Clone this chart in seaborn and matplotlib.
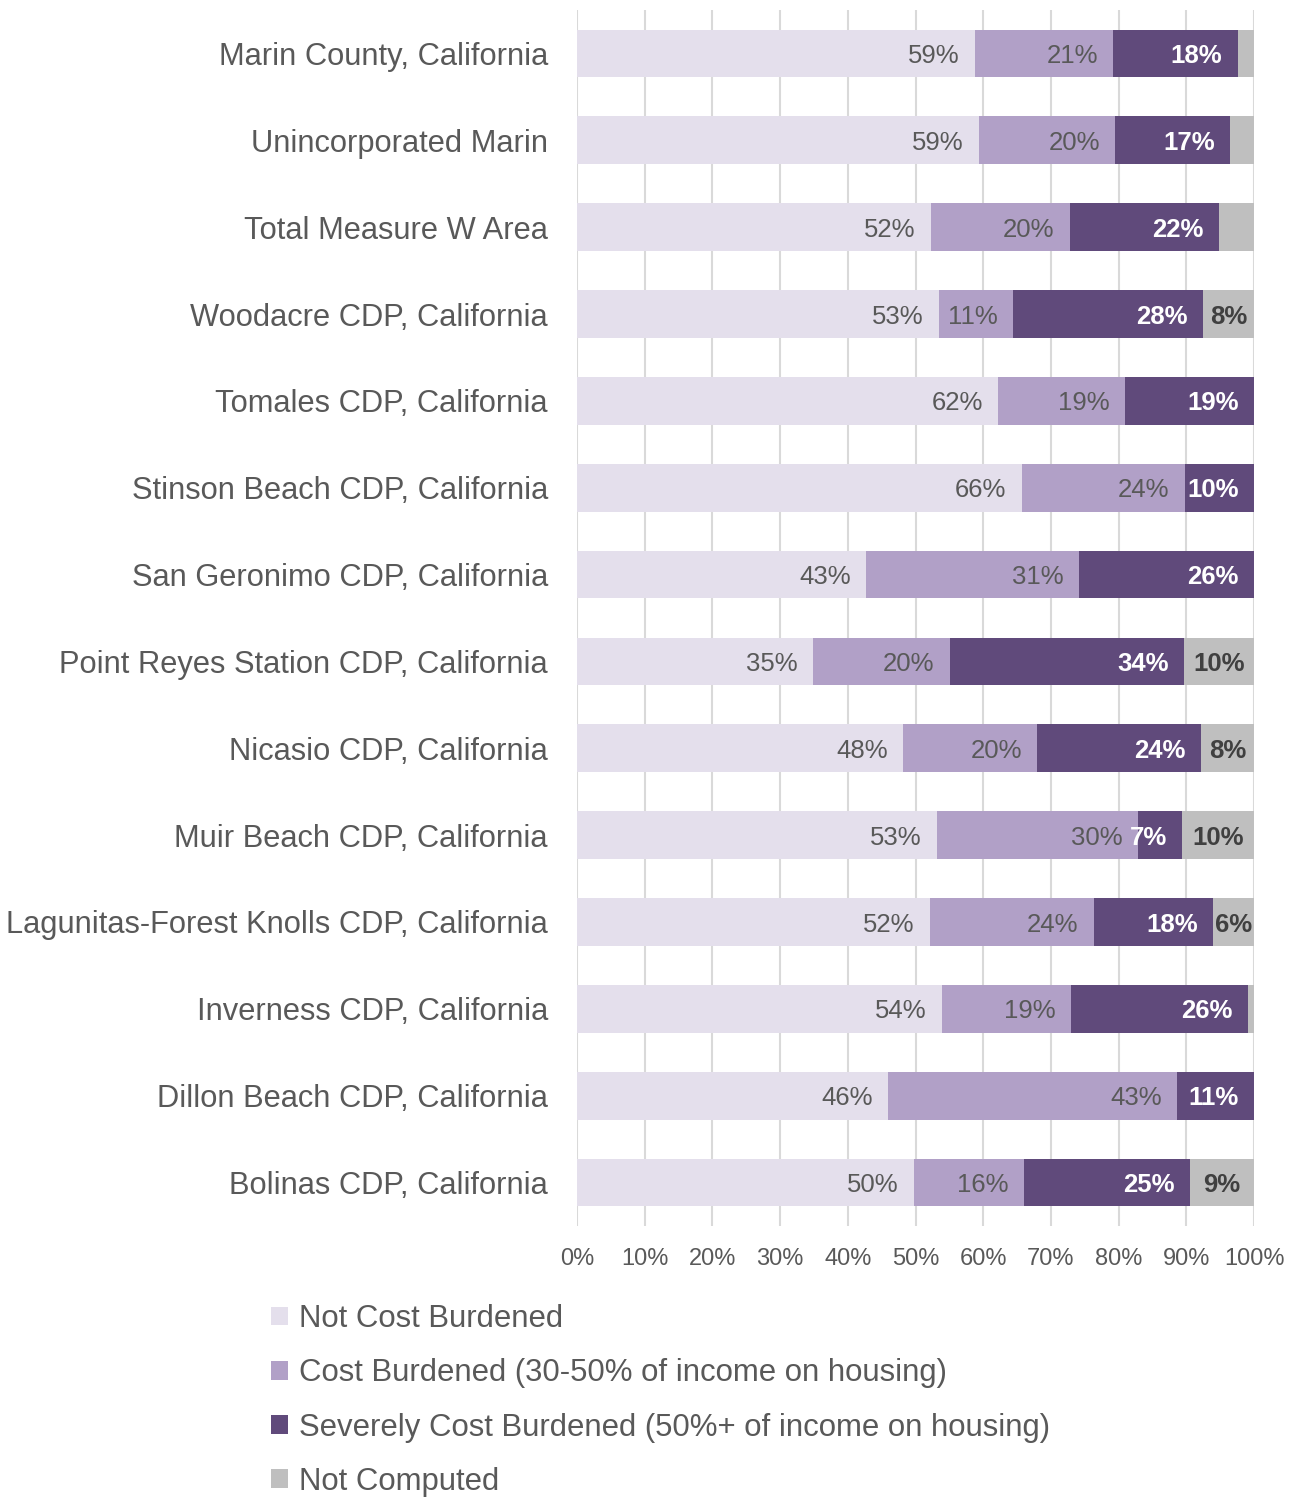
import matplotlib
matplotlib.use("Agg")
import matplotlib.pyplot as plt
import seaborn as sns
import pandas as pd
import numpy as np
from matplotlib.patches import Patch

categories = [
    "Marin County, California",
    "Unincorporated Marin",
    "Total Measure W Area",
    "Woodacre CDP, California",
    "Tomales CDP, California",
    "Stinson Beach CDP, California",
    "San Geronimo CDP, California",
    "Point Reyes Station CDP, California",
    "Nicasio CDP, California",
    "Muir Beach CDP, California",
    "Lagunitas-Forest Knolls CDP, California",
    "Inverness CDP, California",
    "Dillon Beach CDP, California",
    "Bolinas CDP, California",
]
not_cost_burdened = [58.8, 59.4, 52.3, 53.5, 62.2, 65.7, 42.7, 34.9, 48.2, 53.2, 52.1, 53.9, 45.9, 49.8]
cost_burdened = [20.4, 20.1, 20.5, 10.9, 18.7, 24.1, 31.5, 20.2, 19.8, 29.7, 24.2, 19.1, 42.7, 16.2]
severely_burdened = [18.4, 17.0, 22.0, 28.1, 19.1, 10.2, 25.8, 34.6, 24.1, 6.5, 17.7, 26.1, 11.4, 24.5]
not_computed = [2.4, 3.5, 5.2, 7.5, 0.0, 0.0, 0.0, 10.3, 7.9, 10.6, 6.0, 0.9, 0.0, 9.5]

labels_ncb = ["59%", "59%", "52%", "53%", "62%", "66%", "43%", "35%", "48%", "53%", "52%", "54%", "46%", "50%"]
labels_cb = ["21%", "20%", "20%", "11%", "19%", "24%", "31%", "20%", "20%", "30%", "24%", "19%", "43%", "16%"]
labels_scb = ["18%", "17%", "22%", "28%", "19%", "10%", "26%", "34%", "24%", "7%", "18%", "26%", "11%", "25%"]
labels_nc = ["", "", "", "8%", "", "", "", "10%", "8%", "10%", "6%", "", "", "9%"]

series_names = [
    "Not Cost Burdened",
    "Cost Burdened (30-50% of income on housing)",
    "Severely Cost Burdened (50%+ of income on housing)",
    "Not Computed",
]
colors = ["#E4DFEC", "#B1A0C7", "#604A7B", "#BFBFBF"]
x_ticks = [0, 10, 20, 30, 40, 50, 60, 70, 80, 90, 100]

TEXT = "#595959"
sns.set_theme(style="white")
plt.rcParams["font.family"] = ["Liberation Sans", "DejaVu Sans"]

series = [not_cost_burdened, cost_burdened, severely_burdened, not_computed]
cum = np.cumsum(np.array(series), axis=0)  # cumulative ends
df = pd.DataFrame({"category": categories})
for k in range(4):
    df[f"end{k}"] = cum[k]

fig = plt.figure(figsize=(12.97, 14.97), dpi=100)
ax = fig.add_axes([577 / 1297, 1 - 1226 / 1497, (1254 - 577) / 1297, (1226 - 10) / 1497])

ax.set_axisbelow(True)
ax.grid(axis="x", color="#D9D9D9", linewidth=1.5)
ax.grid(axis="y", visible=False)

# draw cumulative bars from the longest to the shortest (stacking)
for k in [3, 2, 1, 0]:
    sns.barplot(data=df, y="category", x=f"end{k}", orient="h", color=colors[k],
                width=0.55, ax=ax, saturation=1, linewidth=0, edgecolor="none",
                order=categories)

ax.set_xlim(0, 100)
ax.set_ylim(len(categories) - 0.5, -0.5)
ax.set_xticks(x_ticks)
ax.set_xticklabels([f"{t}%" for t in x_ticks])
ax.set_xlabel("")
ax.set_ylabel("")
for s in ax.spines.values():
    s.set_visible(False)
ax.tick_params(axis="y", length=0, pad=21, labelsize=22.2, labelcolor=TEXT)
ax.tick_params(axis="x", length=0, pad=16, labelsize=17, labelcolor=TEXT)

label_sets = [labels_ncb, labels_cb, labels_scb]
styles = [
    dict(color=TEXT, fontweight="normal"),
    dict(color=TEXT, fontweight="normal"),
    dict(color="white", fontweight="bold"),
]
for k in range(3):
    for i, lab in enumerate(label_sets[k]):
        if lab:
            ax.annotate(lab, xy=(cum[k][i], i), xytext=(-11, 0), textcoords="offset points",
                        ha="right", va="center_baseline", fontsize=18.5, **styles[k])
for i, lab in enumerate(labels_nc):
    if lab:
        ax.annotate(lab, xy=((cum[2][i] + cum[3][i]) / 2, i), xytext=(0, 0),
                    textcoords="offset points", ha="center", va="center_baseline",
                    fontsize=18.5, color="#404040", fontweight="bold")

handles = [Patch(facecolor=c, edgecolor="none") for c in colors]
fig.legend(handles, series_names, loc="upper left",
           bbox_to_anchor=(271 / 1297, 1 - 1304 / 1497), frameon=False,
           fontsize=22.4, labelcolor=TEXT, handlelength=0.55, handleheight=0.55,
           handletextpad=0.35, labelspacing=0.78, borderpad=0, borderaxespad=0)

fig.savefig("out.png", dpi=100)
